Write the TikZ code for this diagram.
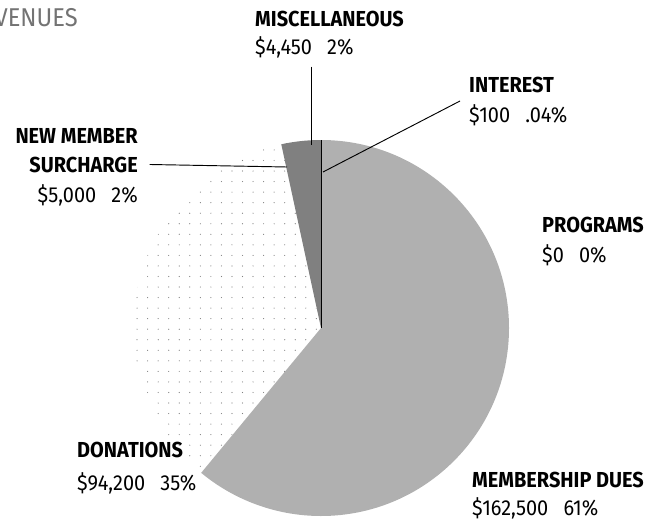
\documentclass[tikz,border=0pt]{standalone}
\usepackage{fontspec}
\setmainfont{Fira Sans}[FakeStretch=0.92]
\usetikzlibrary{patterns.meta}
\definecolor{duesgray}{gray}{0.69}
\definecolor{wedgegray}{gray}{0.5}
\definecolor{titlegray}{gray}{0.45}
\newcommand{\lblfont}{\fontsize{18.5}{20}\selectfont}
\newcommand{\gap}{\hspace{0.7em}}
\newcommand{\pierad}{188}
\tikzset{
  lbl/.style={inner sep=0pt, anchor=base west, font=\lblfont\bfseries},
  val/.style={inner sep=0pt, anchor=base west, font=\lblfont},
  leader/.style={line width=0.8pt}
}

\begin{document}
\begin{tikzpicture}[x=0.03cm,y=0.03cm]
       \useasboundingbox (0,0) rectangle (645,519);
       \clip (0,0) rectangle (645,519);
       \coordinate (c) at (321,191);
       \fill[pattern={Dots[distance=9pt,radius=0.5pt]},pattern color=gray]
         (c) -- ++(102.2:\pierad) arc[start angle=102.2,end angle=230.4,radius=\pierad] -- cycle;
       \fill[duesgray] (c) -- ++(90:\pierad)
         arc[start angle=90,end angle=-129.6,radius=\pierad] -- cycle;
       \fill[wedgegray] (c) -- ++(90:\pierad)
         arc[start angle=90,end angle=102.2,radius=\pierad] -- cycle;
       \draw[leader] (c) -- ++(90:\pierad);
       \node[inner sep=0pt,anchor=base east,text=titlegray,font=\fontsize{22}{22}\selectfont] (title) at (78,492) {REVENUES};
       \node[lbl] (misc) at (255,492) {MISCELLANEOUS};
       \node[val] (miscval) at (255,464) {\$4,450\gap2\%};
       \node[lbl] (int) at (469,427) {INTEREST};
       \node[val] (intval) at (469,397) {\$100\gap.04\%};
       \node[lbl,anchor=base east] (newm) at (138,376) {NEW MEMBER};
       \node[lbl,anchor=base east] (surch) at (138,347) {SURCHARGE};
       \node[val,anchor=base east] (surchval) at (138,317) {\$5,000\gap2\%};
       \node[lbl] (prog) at (542,287) {PROGRAMS};
       \node[val] (progval) at (542,257) {\$0\gap0\%};
       \node[lbl] (don) at (77,62) {DONATIONS};
       \node[val] (donval) at (77,29) {\$94,200\gap35\%};
       \node[lbl] (dues) at (472,32) {MEMBERSHIP DUES};
       \node[val] (duesval) at (472,4) {\$162,500\gap61\%};
       \coordinate (misctip) at (311,374);
       \coordinate (newtip) at (287,352);
       \coordinate (inttip) at (323,347);
       \draw[leader] ([yshift=-10]miscval.base -| misctip) -- (misctip);
       \draw[leader] ([xshift=10]surch.east) -- (newtip);
       \draw[leader] (inttip) -- ([shift={(-9,-9)}]int.base west);
\end{tikzpicture}
\end{document}
